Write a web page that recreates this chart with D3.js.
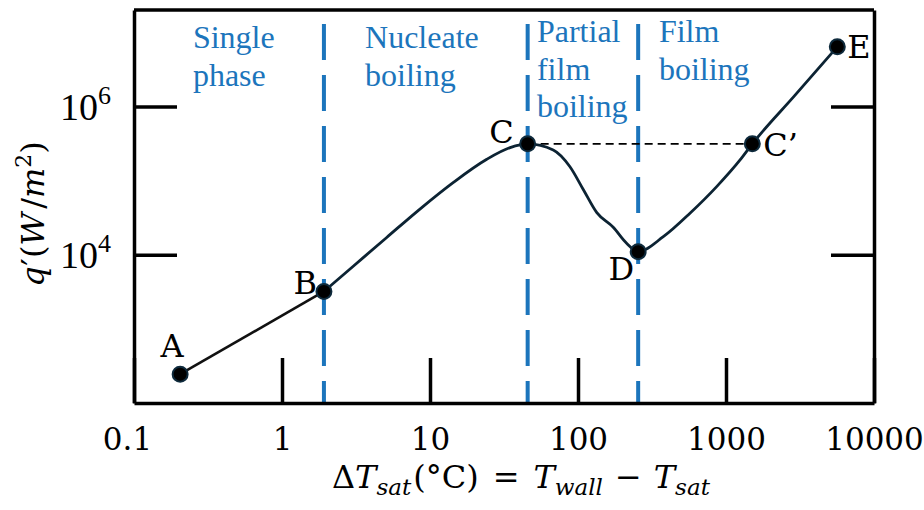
<!DOCTYPE html>
<html>
<head>
<meta charset="utf-8">
<script src="https://cdn.jsdelivr.net/npm/d3@7"></script>
<style>
  body { margin: 0; background: #fff; }
  svg { display: block; }
</style>
</head>
<body>
<svg id="chart"></svg>
<script>
// Boiling curve data
const pointNames = ["A", "B", "C", "D", "C\u2019", "E"];
const pointX = [0.205, 1.92, 45.7, 255, 1506, 5650];
const pointY = [245, 3200, 313000, 11000, 313000, 6.37e6];

// smooth part of the curve, B -> E
const curveX = [1.92, 3.03, 5.1, 8.55, 14.4, 24.2, 34.8, 45.7, 68, 88, 109, 134, 173, 213, 255, 377, 571, 865, 1245, 1506, 2920, 5650];
const curveY = [3200, 7000, 17100, 41300, 94600, 194000, 279000, 313000, 259000, 155000, 74800, 37000, 23500, 14300, 11000, 17500, 36300, 83000, 190000, 313000, 1.41e6, 6.37e6];

// regime boundaries (at B, C, D) and regime labels
const boundaryX = [1.92, 45.7, 255];
const regionLines = [["Single", "phase"], ["Nucleate", "boiling"], ["Partial", "film", "boiling"], ["Film", "boiling"]];
const regionX = [0.25, 3.64, 52.8, 352];

const xTicks = [0.1, 1, 10, 100, 1000, 10000];
const xTickLabels = ["0.1", "1", "10", "100", "1000", "10000"];
const yTicks = [1e4, 1e6];
const yTickExp = ["4", "6"];

const W = 924, H = 510;
const margin = { top: 10, right: 50, bottom: 107, left: 134 };
const width = W - margin.left - margin.right,
  height = H - margin.top - margin.bottom;

const blue = "#1c75bc";

const svg = d3.select("#chart").attr("width", W).attr("height", H);
const g = svg.append("g").attr("transform", "translate(" + margin.left + "," + margin.top + ")");

const x = d3.scaleLog().domain([0.1, 10000]).range([0, width]);
const y = d3.scaleLog().domain([100, 2e7]).range([height, 0]);

// regime dividers
g.selectAll(".divider")
  .data(boundaryX)
  .join("line")
  .attr("class", "divider")
  .attr("x1", (d) => x(d)).attr("x2", (d) => x(d))
  .attr("y1", 14).attr("y2", height)
  .attr("stroke", blue)
  .attr("stroke-width", 4)
  .attr("stroke-dasharray", "36 15");

// regime labels
regionLines.forEach((lines, i) => {
  const t = g.append("text")
    .attr("x", x(regionX[i]))
    .attr("y", i < 2 ? 38 : 32)
    .attr("fill", blue)
    .style("font-family", "'Liberation Serif', 'Times New Roman', serif")
    .style("font-size", "32px");
  lines.forEach((s, j) => {
    t.append("tspan").attr("x", x(regionX[i])).attr("dy", j === 0 ? 0 : 37.5).text(s);
  });
});

// axes: bottom + top (frame), left + right
const xAxis = d3.axisBottom(x).tickValues(xTicks)
  .tickFormat((d, i) => xTickLabels[i]).tickSize(-45).tickSizeOuter(0);
const gx = g.append("g").attr("transform", "translate(0," + height + ")").call(xAxis);
gx.selectAll("text")
  .attr("y", 47).attr("dy", 0)
  .attr("dx", (d, i) => (i === 0 ? -7 : 0))
  .attr("fill", "#000")
  .style("font-family", "'DejaVu Serif', serif")
  .style("font-size", "31px");

const yAxis = d3.axisLeft(y).tickValues(yTicks).tickFormat("").tickSize(-43).tickSizeOuter(0);
const gy = g.append("g").call(yAxis);
gy.selectAll(".tick").each(function (d, i) {
  const t = d3.select(this).select("text")
    .attr("x", -23).attr("dy", 0).attr("y", 13)
    .attr("fill", "#000")
    .style("font-family", "'Liberation Serif', serif")
    .style("font-size", "38px");
  t.append("tspan").text("10");
  t.append("tspan").attr("dy", -16).style("font-size", "26px").text(yTickExp[i]);
});

const gr = g.append("g").attr("transform", "translate(" + width + ",0)")
  .call(d3.axisRight(y).tickValues(yTicks).tickFormat("").tickSize(-43).tickSizeOuter(0));

g.append("line").attr("class", "frame-top")
  .attr("x1", 0).attr("x2", width).attr("y1", 0).attr("y2", 0)
  .attr("stroke", "#000").attr("stroke-width", 3.5);

[gx, gy, gr].forEach((a) => {
  a.select(".domain").attr("stroke", "#000").attr("stroke-width", 3.5);
  a.selectAll(".tick line").attr("stroke", "#000").attr("stroke-width", 3.5);
});

// C -> C' dashed guide
g.append("line")
  .attr("x1", x(pointX[2])).attr("x2", x(pointX[4]))
  .attr("y1", y(pointY[2])).attr("y2", y(pointY[4]))
  .attr("stroke", "#000")
  .attr("stroke-width", 1.8)
  .attr("stroke-dasharray", "8 5");

// A -> B straight part
g.append("path")
  .attr("d", d3.line().x((d) => x(d[0])).y((d) => y(d[1]))([[pointX[0], pointY[0]], [pointX[1], pointY[1]]]))
  .attr("fill", "none")
  .attr("stroke", "#111")
  .attr("stroke-width", 2.6);

// B -> E smooth curve
const curve = d3.line()
  .curve(d3.curveMonotoneX)
  .x((d) => x(d[0]))
  .y((d) => y(d[1]));
g.append("path")
  .attr("d", curve(curveX.map((v, i) => [v, curveY[i]])))
  .attr("fill", "none")
  .attr("stroke", "#0c2333")
  .attr("stroke-width", 2.8);

// points
g.selectAll(".pt")
  .data(pointX)
  .join("circle")
  .attr("class", "pt")
  .attr("cx", (d) => x(d))
  .attr("cy", (d, i) => y(pointY[i]))
  .attr("r", 7.5)
  .attr("fill", "#000")
  .attr("stroke", "#0e2a3c")
  .attr("stroke-width", 2);

// point labels
const labelPos = [
  { dx: -8, dy: -17, anchor: "middle" },
  { dx: -7, dy: 3, anchor: "end" },
  { dx: -14, dy: -1, anchor: "end" },
  { dx: -4, dy: 28, anchor: "end" },
  { dx: 11, dy: 12, anchor: "start" },
  { dx: 10, dy: 11, anchor: "start" },
];
g.selectAll(".plabel")
  .data(pointNames)
  .join("text")
  .attr("class", "plabel")
  .attr("x", (d, i) => x(pointX[i]) + labelPos[i].dx)
  .attr("y", (d, i) => y(pointY[i]) + labelPos[i].dy)
  .attr("text-anchor", (d, i) => labelPos[i].anchor)
  .style("font-family", "'DejaVu Serif', serif")
  .style("font-size", "32px")
  .text((d) => d);

// x-axis title
const xt = svg.append("text")
  .attr("x", 332).attr("y", 488)
  .style("font-family", "'DejaVu Serif', serif")
  .style("font-size", "32px");
xt.append("tspan").text("\u0394");
xt.append("tspan").style("font-style", "italic").text("T");
xt.append("tspan").style("font-style", "italic").style("font-size", "23px").attr("dy", 7).text("sat");
xt.append("tspan").attr("dy", -7).attr("dx", 2).text("(\u00b0C)");
xt.append("tspan").attr("dx", 14).text("=");
xt.append("tspan").attr("dx", 14).style("font-style", "italic").text("T");
xt.append("tspan").style("font-style", "italic").style("font-size", "23px").attr("dy", 7).text("wall");
xt.append("tspan").attr("dy", -7).attr("dx", 12).text("\u2212");
xt.append("tspan").attr("dx", 12).style("font-style", "italic").text("T");
xt.append("tspan").style("font-style", "italic").style("font-size", "23px").attr("dy", 7).text("sat");

// y-axis title
const yt = svg.append("text")
  .attr("transform", "translate(44,214) rotate(-90)")
  .attr("text-anchor", "middle")
  .style("font-family", "'DejaVu Serif', serif")
  .style("font-size", "32px");
yt.append("tspan").style("font-style", "italic").text("q");
yt.append("tspan").attr("dx", 1).text("\u2032(");
yt.append("tspan").style("font-style", "italic").text("W");
yt.append("tspan").attr("dx", 4).text("/");
yt.append("tspan").style("font-style", "italic").text("m");
yt.append("tspan").attr("dy", -13).style("font-size", "22px").text("2");
yt.append("tspan").attr("dy", 13).text(")");
</script>
</body>
</html>
